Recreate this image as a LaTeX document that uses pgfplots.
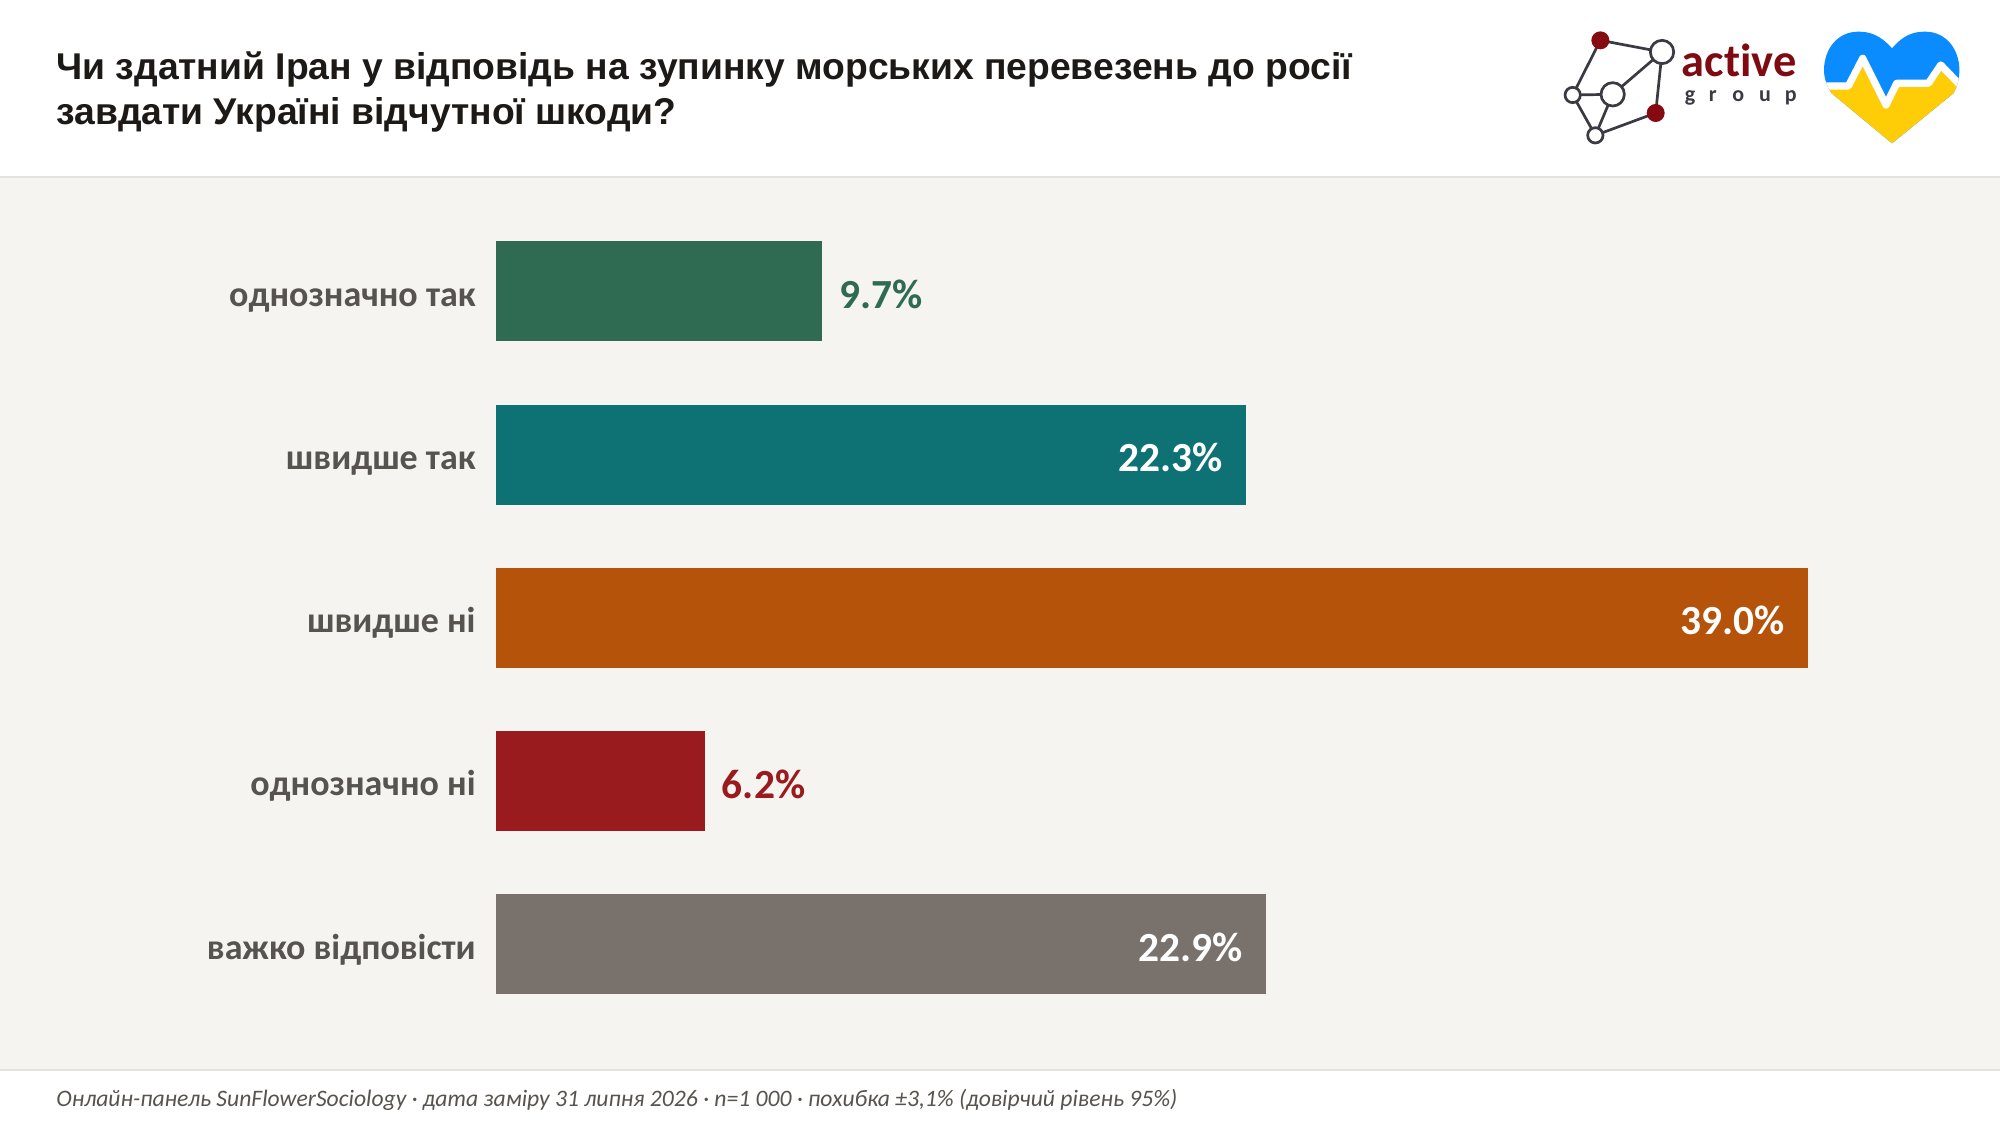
\documentclass[border=0pt]{standalone}
\usepackage{fontspec}
\usepackage{pgfplots}
\pgfplotsset{compat=1.18}
\setmainfont{Carlito}
\newfontfamily\titlefont{Liberation Sans}
\newfontfamily\logofont[Ligatures=NoCommon]{Carlito}
\definecolor{bandbg}{HTML}{F5F4F0}
\definecolor{rulec}{HTML}{E5E3DE}
\definecolor{labelc}{HTML}{57534E}
\definecolor{titlec}{HTML}{1C1917}
\definecolor{c1}{HTML}{2F6B52}
\definecolor{c2}{HTML}{0E7275}
\definecolor{c3}{HTML}{B45309}
\definecolor{c4}{HTML}{991B1E}
\definecolor{c5}{HTML}{78716C}
\definecolor{logored}{HTML}{7F0A12}
\definecolor{logodot}{HTML}{850A12}
\definecolor{logoline}{HTML}{3A3A42}
\definecolor{heartblue}{HTML}{0A8CFF}
\definecolor{heartyellow}{HTML}{FFCC08}

\begin{document}
\begin{tikzpicture}[x=1pt,y=1pt]
\useasboundingbox (0,0) rectangle (1000,563);
\fill[white] (0,0) rectangle (1000,563);
\fill[bandbg] (0,28) rectangle (1000,474.5);
\draw[rulec,line width=0.6pt] (0,474.5) -- (1000,474.5);
\draw[rulec,line width=0.6pt] (0,28) -- (1000,28);

% title and footer
\node[anchor=base west,inner sep=0pt,text=titlec,font=\titlefont\bfseries\fontsize{18.63}{22}\selectfont] at (28,523) {Чи здатний Іран у відповідь на зупинку морських перевезень до росії};
\node[anchor=base west,inner sep=0pt,text=titlec,font=\titlefont\bfseries\fontsize{18.63}{22}\selectfont] at (28,500.5) {завдати Україні відчутної шкоди?};
\node[anchor=base west,inner sep=0pt,text=labelc,font=\itshape\fontsize{11.81}{14}\selectfont] at (28,10) {Онлайн-панель SunFlowerSociology · дата заміру 31 липня 2026 · n=1 000 · похибка ±3,1\% (довірчий рівень 95\%)};

\begin{axis}[
    at={(248pt,28pt)}, anchor=south west,
    scale only axis, width=752pt, height=446.5pt,
    xmin=0, xmax=44.71, ymin=-0.7004, ymax=4.7714,
    y dir=reverse,
    axis line style={draw=none},
    tick style={draw=none},
    major tick length=0pt,
    xtick=\empty,
    ytick={0,1,2,3,4},
    yticklabels={однозначно так,швидше так,швидше ні,однозначно ні,важко відповісти},
    yticklabel style={font=\bfseries\fontsize{18}{21}\selectfont, text=labelc, inner sep=0pt, xshift=-10pt, yshift=-3pt, text height=12pt, text depth=3pt},
    xbar, bar width=50pt, bar shift=0pt,
    point meta=x,
    nodes near coords={\pgfmathprintnumber[fixed,fixed zerofill,precision=1,assume math mode=true]{\pgfplotspointmeta}\%},
    every node near coord/.append style={font=\bfseries\fontsize{20.7}{24}\selectfont, inner sep=0pt, yshift=-1.5pt},
]
\addplot[draw=none,fill=c1,nodes near coords style={anchor=west,xshift=8.5pt,text=c1}] coordinates {(9.7,0)};
\addplot[draw=none,fill=c2,nodes near coords style={anchor=east,xshift=-11.5pt,text=white}] coordinates {(22.3,1)};
\addplot[draw=none,fill=c3,nodes near coords style={anchor=east,xshift=-11.5pt,text=white}] coordinates {(39.0,2)};
\addplot[draw=none,fill=c4,nodes near coords style={anchor=west,xshift=8.5pt,text=c4}] coordinates {(6.2,3)};
\addplot[draw=none,fill=c5,nodes near coords style={anchor=east,xshift=-11.5pt,text=white}] coordinates {(22.9,4)};
\end{axis}

% logos, in the 1/6 pt grid of the header crop
\begin{scope}[shift={(760,563)},x=0.16667pt,y=-0.16667pt]
  \draw[logoline,line width=1.35pt] (241,121) -- (426,156) -- (278,283) -- (158,285) -- (241,121);
  \draw[logoline,line width=1.35pt] (426,156) -- (407,339) -- (226,406) -- (158,285);
  \draw[logoline,line width=1.35pt] (278,283) -- (226,406);
  \fill[logodot] (241,121) circle[radius=27];
  \fill[logodot] (407,339) circle[radius=27];
  \draw[logoline,fill=white,line width=1.35pt] (426,156) circle[radius=35];
  \draw[logoline,fill=white,line width=1.35pt] (278,283) circle[radius=35];
  \draw[logoline,fill=white,line width=1.35pt] (158,285) circle[radius=23];
  \draw[logoline,fill=white,line width=1.35pt] (226,406) circle[radius=23];
  \node[anchor=base west,inner sep=0pt,text=logored,font=\logofont\bfseries\fontsize{23.2}{26}\selectfont] at (484,230) {active};
  \foreach \lx/\lt in {510/g,578/r,655/o,735/u,812/p}
    \node[anchor=base,inner sep=0pt,text=logoline,font=\fontsize{11}{13}\bfseries\selectfont] at (\lx,304) {\lt};

  \begin{scope}
    \clip (1116,145) .. controls (1080,105) and (1050,95) .. (1015,95)
      .. controls (950,95) and (912,150) .. (912,210)
      .. controls (912,235) and (920,258) .. (935,280)
      -- (1116,430) -- (1300,280)
      .. controls (1312,258) and (1318,235) .. (1318,210)
      .. controls (1318,150) and (1280,95) .. (1215,95)
      .. controls (1180,95) and (1150,105) .. (1116,145) -- cycle;
    \fill[heartblue] (900,80) rectangle (1330,440);
    \fill[heartyellow] (900,258) -- (985,258) -- (1028,175) -- (1098,315) -- (1130,250) -- (1225,250) -- (1262,195) -- (1330,265) -- (1330,440) -- (900,440) -- cycle;
    \draw[white,line width=3.6pt,line join=round] (900,258) -- (985,258) -- (1028,175) -- (1098,315) -- (1130,250) -- (1225,250) -- (1262,195) -- (1330,265);
  \end{scope}
\end{scope}
\end{tikzpicture}
\end{document}
